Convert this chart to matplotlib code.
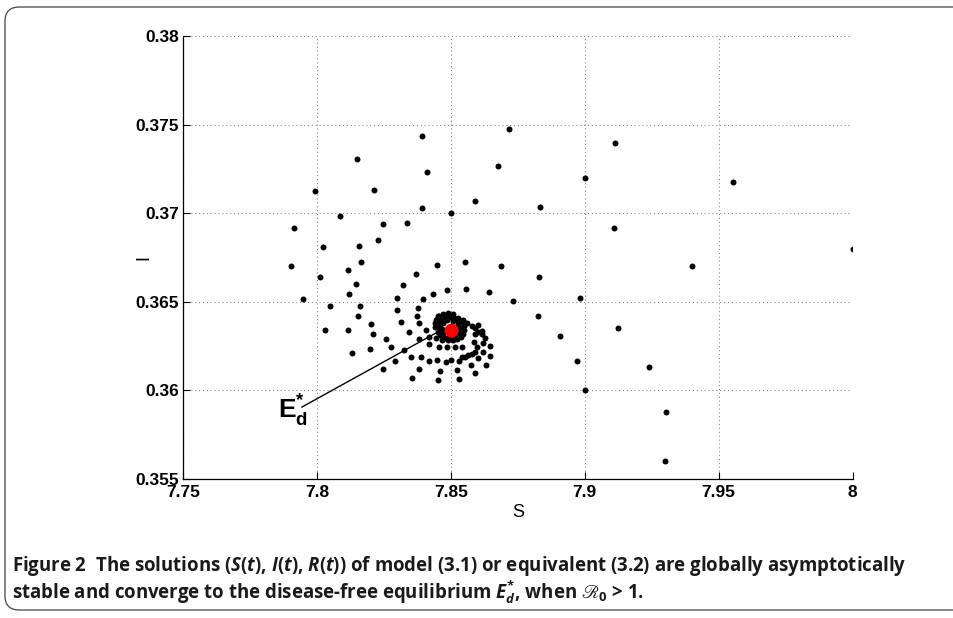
import matplotlib
matplotlib.use("Agg")
import matplotlib.pyplot as plt
from matplotlib.patches import FancyBboxPatch

plt.rcParams['mathtext.fontset'] = 'custom'
plt.rcParams['mathtext.rm'] = 'Open Sans:bold'
plt.rcParams['mathtext.it'] = 'Open Sans:italic:bold'
plt.rcParams['mathtext.bf'] = 'Liberation Sans:bold'
plt.rcParams['mathtext.cal'] = 'STIXGeneral:italic'
plt.rcParams['mathtext.fallback'] = 'stix'

# ---- data ----
S_vals = [
    8.0000, 7.9552, 7.9399, 7.9303, 7.9298, 7.9239, 7.9126, 7.9112, 7.9111, 7.9000,
    7.9000, 7.8983, 7.8972, 7.8909, 7.8833, 7.8830, 7.8825, 7.8733, 7.8718, 7.8686,
    7.8677, 7.8641, 7.8590, 7.8556, 7.8553, 7.8500, 7.8486, 7.8447, 7.8434, 7.8412,
    7.8398, 7.8393, 7.8392, 7.8377, 7.8374, 7.8370, 7.8338, 7.8322, 7.8299, 7.8298,
    7.8246, 7.8228, 7.8214, 7.8164, 7.8160, 7.8157, 7.8154, 7.8150, 7.8145, 7.8119,
    7.8117, 7.8115, 7.8086, 7.8050, 7.8031, 7.8021, 7.8013, 7.7992, 7.7948, 7.7913,
    7.7904, 7.8315, 7.8382, 7.8201, 7.8210, 7.8344, 7.8407, 7.8259, 7.8381, 7.8132,
    7.8200, 7.8278, 7.8325, 7.8418, 7.8351, 7.8390, 7.8290, 7.8420, 7.8449, 7.8481,
    7.8501, 7.8530, 7.8245, 7.8381, 7.8460, 7.8525, 7.8575, 7.8590, 7.8630, 7.8355,
    7.8451, 7.8531, 7.8455, 7.8486, 7.8515, 7.8542, 7.8420, 7.8445, 7.8466,
    7.8528, 7.8547, 7.8562, 7.8578, 7.8591, 7.8603, 7.8616, 7.8628, 7.8591, 7.8617,
    7.8601, 7.8647, 7.8622, 7.8620, 7.8597, 7.8591, 7.8585, 7.8578, 7.8566, 7.8553,
    7.8541, 7.8603, 7.8648,
    7.8465, 7.8480, 7.8497, 7.8512, 7.8527, 7.8540, 7.8548, 7.8551, 7.8547, 7.8538,
    7.8524, 7.8508, 7.8490, 7.8473, 7.8460, 7.8453, 7.8455, 7.8458, 7.8470, 7.8485,
    7.8510, 7.8528, 7.8535, 7.8530, 7.8515, 7.8492, 7.8472, 7.8468,
    7.8445, 7.8452, 7.8470, 7.8490, 7.8510, 7.8440, 7.8442, 7.8448, 7.8455,
]
I_vals = [
    0.36800, 0.37174, 0.36700, 0.35878, 0.35600, 0.36134, 0.36352, 0.37394, 0.36917, 0.37200,
    0.36001, 0.36522, 0.36166, 0.36307, 0.37037, 0.36638, 0.36422, 0.36505, 0.37473, 0.36704,
    0.37266, 0.36553, 0.37069, 0.36574, 0.36723, 0.36999, 0.36568, 0.36706, 0.36546, 0.37234,
    0.36514, 0.37436, 0.37029, 0.36467, 0.36422, 0.36659, 0.36943, 0.36595, 0.36523, 0.36452,
    0.36937, 0.36847, 0.37131, 0.36726, 0.36478, 0.36817, 0.36422, 0.37308, 0.36601, 0.36546,
    0.36680, 0.36341, 0.36983, 0.36476, 0.36341, 0.36811, 0.36638, 0.37125, 0.36514, 0.36915,
    0.36704, 0.36386, 0.36380, 0.36375, 0.36320, 0.36331, 0.36339, 0.36289, 0.36290, 0.36213,
    0.36235, 0.36243, 0.36226, 0.36264, 0.36190, 0.36189, 0.36164, 0.36164, 0.36172, 0.36159,
    0.36172, 0.36168, 0.36123, 0.36121, 0.36108, 0.36117, 0.36142, 0.36100, 0.36143, 0.36072,
    0.36057, 0.36066, 0.36245, 0.36245, 0.36245, 0.36245, 0.36303, 0.36294, 0.36285,
    0.36407, 0.36397, 0.36379, 0.36365, 0.36350, 0.36331, 0.36317, 0.36298, 0.36317, 0.36337,
    0.36369, 0.36251, 0.36266, 0.36219, 0.36247, 0.36219, 0.36275, 0.36206, 0.36200, 0.36190,
    0.36187, 0.36181, 0.36194,
    0.36400, 0.36412, 0.36415, 0.36410, 0.36400, 0.36385, 0.36365, 0.36340, 0.36318, 0.36300,
    0.36290, 0.36285, 0.36287, 0.36295, 0.36310, 0.36330, 0.36352, 0.36375, 0.36380, 0.36395,
    0.36392, 0.36375, 0.36350, 0.36322, 0.36305, 0.36305, 0.36320, 0.36345,
    0.36395, 0.36420, 0.36430, 0.36436, 0.36433, 0.36360, 0.36380, 0.36405, 0.36420,
]
equilibrium = (7.8501, 0.36341)
label_anchor = (7.7944, 0.35906)

x_ticks = [7.75, 7.8, 7.85, 7.9, 7.95, 8.0]
x_ticklabels = ['7.75', '7.8', '7.85', '7.9', '7.95', '8']
y_ticks = [0.355, 0.36, 0.365, 0.37, 0.375, 0.38]
y_ticklabels = ['0.355', '0.36', '0.365', '0.37', '0.375', '0.38']

caption1 = ("Figure 2  The solutions ($\\mathit{S}$($\\mathit{t}$), $\\mathit{I}$($\\mathit{t}$), "
            "$\\mathit{R}$($\\mathit{t}$)) of model (3.1) or equivalent (3.2) are globally asymptotically")
caption2 = ("stable and converge to the disease-free equilibrium $\\mathit{E}^{*}_{\\mathit{d}}$, "
            "when $\u211b_{0}$ > 1.")

# ---- figure ----
W, H = 954, 618
fig = plt.figure(figsize=(W / 100, H / 100), dpi=100)

# rounded frame (open to the right)
frame = FancyBboxPatch((5 / W, 8 / H), 1.2, (H - 15) / H,
                       boxstyle="round,pad=0,rounding_size=0.015",
                       transform=fig.transFigure, fill=False,
                       edgecolor='#555555', linewidth=1.0, mutation_aspect=W / H)
fig.patches.append(frame)

ax = fig.add_axes([183 / W, 1 - 479 / H, (852.5 - 183) / W, (479 - 36) / H])
ax.set_xlim(7.75, 8.0)
ax.set_ylim(0.355, 0.38)
ax.set_xticks(x_ticks)
ax.set_xticklabels(x_ticklabels)
ax.set_yticks(y_ticks)
ax.set_yticklabels(y_ticklabels)
for lab in ax.get_xticklabels() + ax.get_yticklabels():
    lab.set_fontfamily('Liberation Sans')
    lab.set_fontweight('bold')
    lab.set_fontsize(12.5)
ax.tick_params(direction='in', length=5, width=0.8, pad=3)
ax.tick_params(axis='x', pad=4)
ax.spines['top'].set_visible(False)
ax.spines['right'].set_visible(False)
ax.spines['left'].set_linewidth(0.9)
ax.spines['bottom'].set_linewidth(0.9)
ax.grid(True, linestyle=(0, (1, 2.5)), color='#888888', linewidth=0.8)
ax.set_axisbelow(True)

ax.set_xlabel('S', fontfamily='Liberation Sans', fontsize=13, labelpad=3)
ax.set_ylabel('I', fontfamily='Liberation Sans', fontsize=13)
ax.yaxis.set_label_coords(-0.046, 0.5)

ax.plot(S_vals, I_vals, linestyle='none', marker='o', markersize=4.3,
        color='black', markeredgewidth=0, zorder=3)
ax.plot([equilibrium[0]], [equilibrium[1]], linestyle='none', marker='o',
        markersize=10, color='red', markeredgewidth=0, zorder=4)

# label line and text
ax.plot([label_anchor[0], 7.8447], [label_anchor[1], 0.36326], color='black',
        linewidth=1.0, zorder=2)
ax.text(7.7853, 0.35844, r'$\mathbf{E}^{\mathbf{*}}_{\mathbf{d}}$', fontsize=19,
        ha='left', va='baseline')

cap_family = ['Open Sans', 'DejaVu Sans', 'STIXGeneral']
fig.text(12 / W, 1 - 566 / H, caption1, fontfamily=cap_family, fontweight='bold',
         fontsize=13.45, ha='left', va='center', color='#1a1a1a')
fig.text(12 / W, 1 - 592 / H, caption2, fontfamily=cap_family, fontweight='bold',
         fontsize=13.45, ha='left', va='center', color='#1a1a1a')

fig.savefig('out.png', dpi=100)
